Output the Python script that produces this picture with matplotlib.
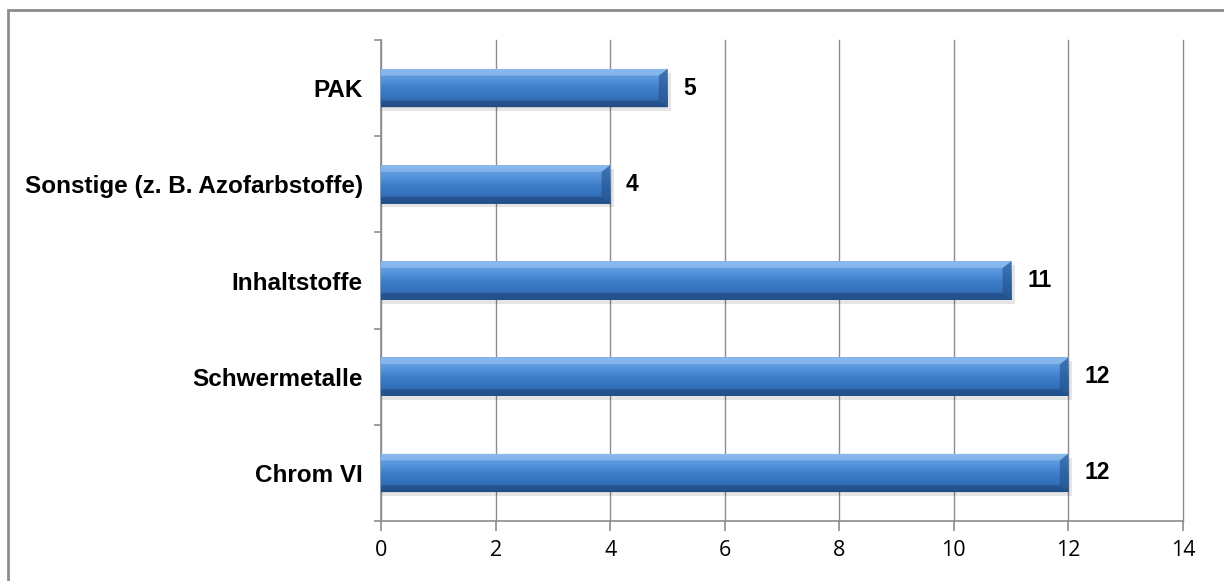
import matplotlib
matplotlib.use("Agg")
import matplotlib.pyplot as plt
import numpy as np
from matplotlib.patches import Rectangle, Polygon
from matplotlib.colors import LinearSegmentedColormap

categories = ["Chrom VI", "Schwermetalle", "Inhaltstoffe", "Sonstige (z. B. Azofarbstoffe)", "PAK"]
values = [12, 12, 11, 4, 5]
xticks = [0, 2, 4, 6, 8, 10, 12, 14]

fig = plt.figure(figsize=(12.24, 5.81), dpi=100)
# outer chart frame (cropped at right/bottom)
fig.patches.append(Rectangle((8/1224, -0.05), 1.1, 1 - 10/581 + 0.05, transform=fig.transFigure,
                             fill=False, edgecolor="#8c8c8c", linewidth=2.0))
ax = fig.add_axes([381/1224, 1 - 521/581, (1183 - 381)/1224, (521 - 40)/581])

y = np.arange(len(categories))
bh = 0.4
bars = ax.barh(y, values, height=bh, color="#3d7cc9", edgecolor="none", zorder=3)

cmap = LinearSegmentedColormap.from_list("g", ["#2a5c9c", "#3571bb", "#3f80cc", "#5a97dd", "#78adea"])
grad = np.linspace(0, 1, 256).reshape(-1, 1)
for b in bars:
    x0, y0, w, h = b.get_x(), b.get_y(), b.get_width(), b.get_height()
    # shadow
    ax.add_patch(Rectangle((x0, y0 - 0.04), w + 0.06, h, facecolor="#000000", alpha=0.10,
                           edgecolor="none", zorder=2))
    im = ax.imshow(grad, extent=(x0, x0 + w, y0, y0 + h), origin="lower", aspect="auto",
                   cmap=cmap, zorder=3.5)
    im.set_clip_path(b)
    bw = 0.15
    bd = 0.07
    # right bevel (darker)
    ax.add_patch(Polygon([(x0 + w - bw, y0 + bd), (x0 + w, y0), (x0 + w, y0 + h), (x0 + w - bw, y0 + h - bd)],
                         closed=True, facecolor="#24508a", alpha=0.6, edgecolor="none", zorder=4))
    # top bevel (lighter)
    ax.add_patch(Polygon([(x0, y0 + h), (x0 + w, y0 + h), (x0 + w - bw, y0 + h - bd), (x0, y0 + h - bd)],
                         closed=True, facecolor="#9cc6f2", alpha=0.55, edgecolor="none", zorder=4))
    # bottom bevel (darker)
    ax.add_patch(Polygon([(x0, y0), (x0 + w, y0), (x0 + w - bw, y0 + bd), (x0, y0 + bd)],
                         closed=True, facecolor="#1d4478", alpha=0.55, edgecolor="none", zorder=4))
    ax.annotate(f"{int(w)}", xy=(x0 + w, y0 + h / 2), xytext=(11.5, 0), textcoords="offset points",
                ha="left", va="center", fontsize=16.5, fontweight="bold",
                family=["Liberation Sans", "DejaVu Sans"], zorder=5)

ax.set_xlim(0, 14)
ax.set_ylim(-0.5, len(categories) - 0.5)
ax.set_xticks(xticks)
ax.set_xticklabels([str(t) for t in xticks], family=["Liberation Sans Narrow", "Open Sans", "DejaVu Sans"],
                   fontsize=15.5)
ax.set_yticks(y)
ax.set_yticklabels(categories, family=["Liberation Sans", "DejaVu Sans"], fontsize=17.5, fontweight="bold")
ax.set_yticks(np.arange(len(categories) + 1) - 0.5, minor=True)

ax.grid(axis="x", color="#8c8c8c", linewidth=1.0, zorder=0)
for gl in ax.get_xgridlines():
    gl.set_clip_on(False)
ax.set_axisbelow(True)
for s in ["top", "right"]:
    ax.spines[s].set_visible(False)
ax.spines["left"].set_color("#8c8c8c")
ax.spines["bottom"].set_color("#8c8c8c")
ax.spines["left"].set_linewidth(1.2)
ax.spines["bottom"].set_linewidth(1.2)
ax.tick_params(axis="y", which="major", length=0, pad=13)
ax.tick_params(axis="y", which="minor", length=5, color="#8c8c8c", width=1.2)
ax.tick_params(axis="x", which="major", length=7, color="#8c8c8c", width=1.2, pad=7)

fig.savefig("out.png", dpi=100)
